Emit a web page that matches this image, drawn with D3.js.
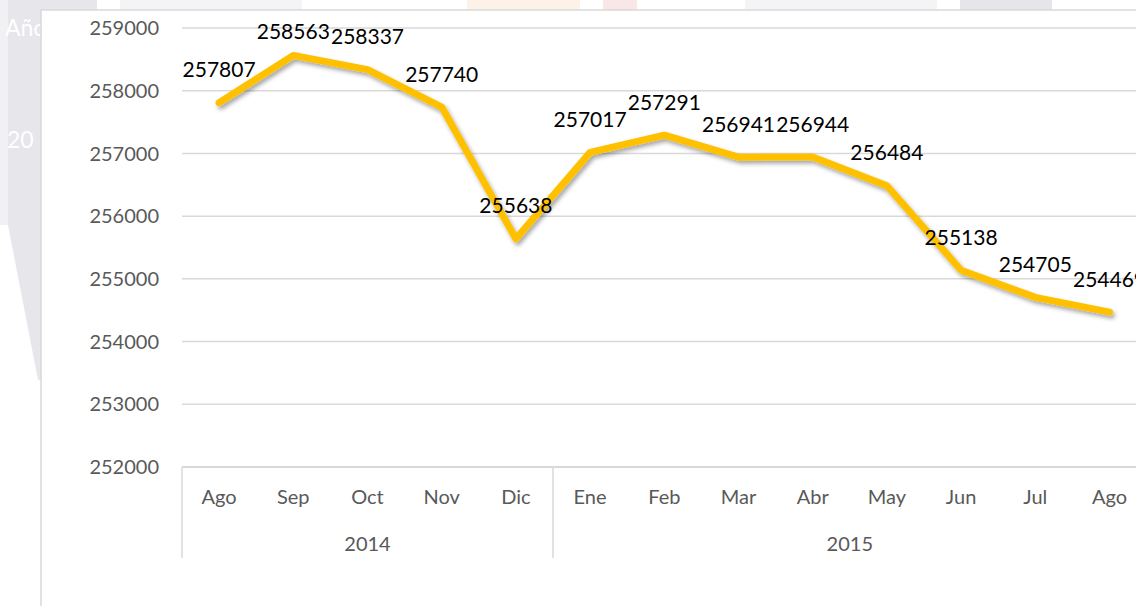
<!DOCTYPE html>
<html>
<head>
<meta charset="utf-8">
<script src="https://cdn.jsdelivr.net/npm/d3@7"></script>
<style>
  body { margin: 0; background: #ffffff; overflow: hidden; }
  svg { display: block; font-family: Lato, "Open Sans", sans-serif; }
</style>
</head>
<body>
<svg id="chart" width="1136" height="606"></svg>
<script>
// Data
const months = ["Ago", "Sep", "Oct", "Nov", "Dic", "Ene", "Feb", "Mar", "Abr", "May", "Jun", "Jul", "Ago"];
const values = [257807, 258563, 258337, 257740, 255638, 257017, 257291, 256941, 256944, 256484, 255138, 254705, 254469];
const years = ["2014", "2015"];
const yearSpans = [5, 8];
const yTicks = [252000, 253000, 254000, 255000, 256000, 257000, 258000, 259000];

const svg = d3.select("#chart");

// faint background behind the chart box (slide watermark)
const bg = svg.append("g");
bg.append("rect").attr("x", 0).attr("y", 0).attr("width", 8).attr("height", 225).attr("fill", "#f1f1f4");
bg.append("polygon").attr("points", "8,0 41,0 41,380 38,380 8,225").attr("fill", "#e6e6eb");
bg.append("rect").attr("x", 41).attr("y", 0).attr("width", 56).attr("height", 10).attr("fill", "#e6e6eb");
bg.append("rect").attr("x", 120).attr("y", 0).attr("width", 182).attr("height", 10).attr("fill", "#f4f4f6");
bg.append("rect").attr("x", 467).attr("y", 0).attr("width", 113).attr("height", 10).attr("fill", "#fdf2e7");
bg.append("rect").attr("x", 603).attr("y", 0).attr("width", 34).attr("height", 10).attr("fill", "#f9e6e6");
bg.append("rect").attr("x", 745).attr("y", 0).attr("width", 192).attr("height", 10).attr("fill", "#f4f4f6");
bg.append("rect").attr("x", 960).attr("y", 0).attr("width", 92).attr("height", 10).attr("fill", "#e6e6ea");
bg.append("text").attr("x", 5).attr("y", 36).attr("fill", "#ffffff").attr("font-size", 23).text("Año");
bg.append("text").attr("x", 7).attr("y", 148).attr("fill", "#ffffff").attr("font-size", 23).text("20");

// chart box
svg.append("rect")
    .attr("x", 41).attr("y", 10)
    .attr("width", 1200).attr("height", 700)
    .attr("fill", "#ffffff")
    .attr("stroke", "#d9d9d9").attr("stroke-width", 1.5);

// scales
const x = d3.scaleBand()
    .domain(d3.range(months.length))
    .range([182, 182 + 74.2 * months.length]);

const y = d3.scaleLinear()
    .domain([252000, 259000])
    .range([467, 28]);

// gridlines
svg.append("g").selectAll("line").data(yTicks.slice(1)).join("line")
    .attr("x1", 182).attr("x2", 1200)
    .attr("y1", d => y(d)).attr("y2", d => y(d))
    .attr("stroke", "#d9d9d9").attr("stroke-width", 1.5);

// y axis labels
svg.append("g").selectAll("text").data(yTicks).join("text")
    .attr("x", 159).attr("y", d => y(d))
    .attr("dy", "0.36em")
    .attr("text-anchor", "end")
    .attr("font-size", 20)
    .attr("fill", "#595959")
    .text(d => d);

// x axis line
svg.append("line")
    .attr("x1", 182).attr("x2", 1200)
    .attr("y1", y(252000)).attr("y2", y(252000))
    .attr("stroke", "#d9d9d9").attr("stroke-width", 2);

// month labels
svg.append("g").selectAll("text").data(months).join("text")
    .attr("x", (d, i) => x(i) + x.bandwidth() / 2)
    .attr("y", 497)
    .attr("dy", "0.36em")
    .attr("text-anchor", "middle")
    .attr("font-size", 20)
    .attr("fill", "#595959")
    .text(d => d);

// year groups
let start = 0;
const groups = years.map(function(yr, i) {
    const g = { year: yr, from: start, to: start + yearSpans[i] };
    start += yearSpans[i];
    return g;
});

svg.append("g").selectAll("line").data(groups).join("line")
    .attr("x1", d => x(d.from)).attr("x2", d => x(d.from))
    .attr("y1", y(252000)).attr("y2", 558)
    .attr("stroke", "#d9d9d9").attr("stroke-width", 1.5);

svg.append("g").selectAll("text").data(groups).join("text")
    .attr("x", d => (x(d.from) + x(d.to - 1) + x.bandwidth()) / 2)
    .attr("y", 544)
    .attr("dy", "0.36em")
    .attr("text-anchor", "middle")
    .attr("font-size", 20)
    .attr("fill", "#595959")
    .text(d => d.year);

// shadow for the line
const defs = svg.append("defs");
defs.append("filter").attr("id", "shadow")
    .attr("x", "-10%").attr("y", "-10%").attr("width", "120%").attr("height", "130%")
    .append("feDropShadow")
    .attr("dx", 2).attr("dy", 3)
    .attr("stdDeviation", 2.2)
    .attr("flood-color", "#000000")
    .attr("flood-opacity", 0.35);

const line = d3.line()
    .x((d, i) => x(i) + x.bandwidth() / 2)
    .y(d => y(d));

svg.append("path")
    .datum(values)
    .attr("d", line)
    .attr("fill", "none")
    .attr("stroke", "#ffc000")
    .attr("stroke-width", 7)
    .attr("stroke-linejoin", "round")
    .attr("stroke-linecap", "round")
    .attr("filter", "url(#shadow)");

// data labels (kept inside the plot area like Excel does)
svg.append("g").selectAll("text").data(values).join("text")
    .attr("x", (d, i) => x(i) + x.bandwidth() / 2)
    .attr("y", d => Math.max(y(d) - 33, 31))
    .attr("dy", "0.36em")
    .attr("text-anchor", "middle")
    .attr("font-size", 21)
    .attr("fill", "#000000")
    .text(d => d);
</script>
</body>
</html>
